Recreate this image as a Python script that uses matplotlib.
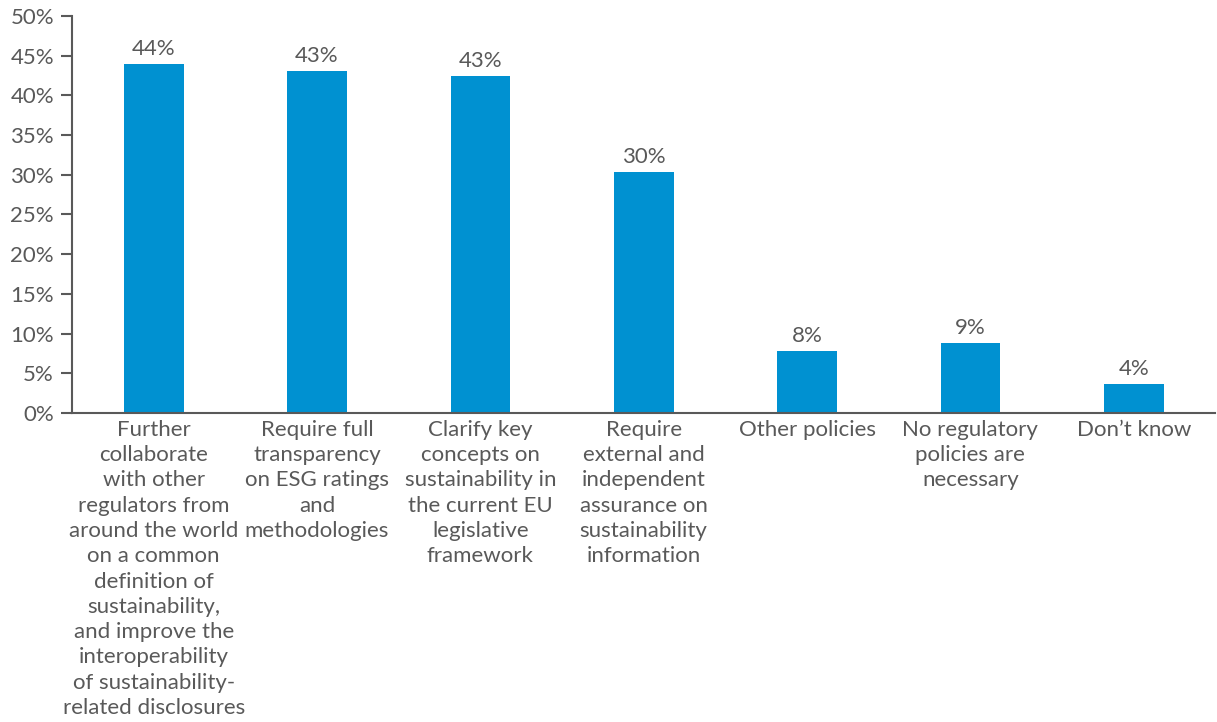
import numpy as np
import matplotlib.pyplot as plt

plt.rcParams['font.family'] = ['Lato', 'DejaVu Sans']

categories = [
    'Further\ncollaborate\nwith other\nregulators from\naround the world\non a common\ndefinition of\nsustainability,\nand improve the\ninteroperability\nof sustainability-\nrelated disclosures',
    'Require full\ntransparency\non ESG ratings\nand\nmethodologies',
    'Clarify key\nconcepts on\nsustainability in\nthe current EU\nlegislative\nframework',
    'Require\nexternal and\nindependent\nassurance on\nsustainability\ninformation',
    'Other policies',
    'No regulatory\npolicies are\nnecessary',
    'Don\u2019t know',
]
values = [43.95, 43.1, 42.45, 30.35, 7.8, 8.85, 3.65]
value_labels = ['44%', '43%', '43%', '30%', '8%', '9%', '4%']

bar_color = '#0091D1'
text_color = '#595959'

fig = plt.figure(figsize=(12.17, 7.22), dpi=100)
ax = fig.add_axes([0.0592, 0.428, 0.9395, 0.550])

x = np.arange(len(categories))
bars = ax.bar(x, values, width=0.365, color=bar_color, zorder=2)

for b, lab in zip(bars, value_labels):
    ax.annotate(lab, (b.get_x() + b.get_width() / 2, b.get_height()),
                xytext=(0, 3.5), textcoords='offset points',
                ha='center', va='bottom', fontsize=16, color=text_color)

ax.set_xlim(-0.5, 6.5)
ax.set_ylim(0, 50)
ax.set_yticks(np.arange(0, 51, 5))
ax.set_yticklabels([f'{v}%' for v in range(0, 51, 5)])
ax.set_xticks(x)
ax.set_xticklabels(categories, fontsize=16, color=text_color, linespacing=1.33, va='top')

ax.tick_params(axis='y', direction='out', length=8, width=1.5, color='#595959',
               labelsize=16, labelcolor=text_color, pad=5)
ax.tick_params(axis='x', length=0, pad=5)

for s in ['top', 'right']:
    ax.spines[s].set_visible(False)
for s in ['left', 'bottom']:
    ax.spines[s].set_color('#595959')
    ax.spines[s].set_linewidth(1.5)

plt.savefig('out.png', dpi=100)
